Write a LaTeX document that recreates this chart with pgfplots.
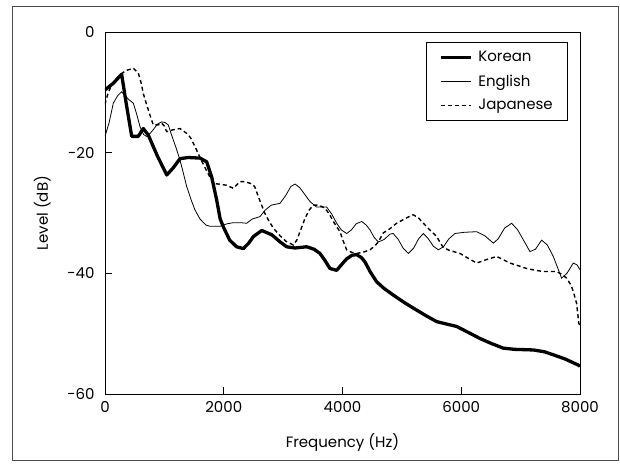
\documentclass[border=0pt]{standalone}
\usepackage{pgfplots}
\pgfplotsset{compat=1.18}
\usepackage{fontspec}
\setmainfont{Poppins}
\begin{document}
\begin{tikzpicture}[x=1pt,y=1pt]
\begin{axis}[
  scale only axis, width=475pt, height=362pt,
  xmin=0, xmax=8000, ymin=-60, ymax=0,
  xtick={0,2000,4000,6000,8000}, xticklabels={0,2000,4000,6000,8000},
  ytick={-60,-40,-20,0}, yticklabels={-60,-40,-20,0},
  tick pos=left, tick align=inside, major tick length=7pt,
  axis line style={line width=0.9pt},
  every tick/.style={black, line width=0.8pt},
  tick label style={font=\fontsize{15}{17}\selectfont},
  xticklabel style={yshift=-4pt},
  yticklabel style={xshift=-7pt},
  label style={font=\fontsize{15}{17}\selectfont},
  xlabel={Frequency (Hz)}, ylabel={Level (dB)},
  xlabel style={at={(axis description cs:0.5,-0.134)}, anchor=center},
  ylabel style={at={(axis description cs:-0.132,0.5)}, anchor=center, rotate=0},
  legend style={at={(0.975,0.972)}, anchor=north east, draw=black, line width=0.8pt,
    font=\fontsize{15}{17}\selectfont, inner xsep=13pt, inner ysep=7pt, row sep=7.5pt, column sep=4pt},
  legend cell align=left,
  legend image code/.code={\draw[#1] (0pt,0pt) -- (30pt,0pt);},
]
\addplot[black, line width=3.3pt, line join=round] coordinates {
(0,-9.6) (140,-8.5) (280,-7.0) (360,-12) (450,-17.3) (560,-17.3) (645,-16.0) (730,-17.1) (880,-20.5) (1040,-23.7) (1150,-22.5) (1263,-21.0) (1400,-20.8) (1600,-20.9) (1712,-21.5) (1796,-24.0) (1880,-27.8) (1940,-31.0) (1993,-32.3) (2100,-34.5) (2217,-35.6) (2330,-35.9) (2420,-35.0) (2500,-33.9) (2640,-32.9) (2807,-33.6) (2950,-34.8) (3060,-35.6) (3200,-35.8) (3396,-35.6) (3520,-36.0) (3620,-36.7) (3700,-37.8) (3789,-39.2) (3902,-39.5) (3980,-38.6) (4070,-37.6) (4160,-37.0) (4238,-36.9) (4320,-37.4) (4378,-38.1) (4470,-39.8) (4575,-41.4) (4700,-42.5) (4855,-43.6) (5050,-44.9) (5249,-46.1) (5420,-47.1) (5586,-48.0) (5750,-48.4) (5922,-48.8) (6100,-49.7) (6315,-50.8) (6500,-51.6) (6708,-52.4) (6900,-52.6) (7213,-52.7) (7400,-53.0) (7550,-53.5) (7750,-54.2) (7970,-55.2) (8000,-55.4)
};
\addlegendentry{Korean}
\addplot[black, line width=0.8pt] coordinates {
(0,-17.3) (70,-15) (140,-11.8) (210,-10.6) (280,-9.9) (330,-10.5) (400,-11.2) (477,-11.8) (530,-13.5) (590,-15.7) (650,-17.0) (700,-17.3) (760,-16.8) (813,-16.2) (880,-15.3) (953,-14.9) (1010,-15.0) (1066,-15.4) (1122,-17.1) (1190,-19.0) (1263,-21.2) (1376,-25.6) (1450,-27.8) (1516,-29.5) (1600,-31.0) (1700,-32.0) (1768,-32.2) (1937,-32.2) (2050,-31.8) (2161,-31.6) (2280,-31.6) (2386,-31.7) (2480,-31.0) (2610,-30.6) (2700,-29.5) (2800,-28.7) (2947,-28.4) (3050,-27.0) (3130,-25.6) (3200,-25.2) (3280,-25.8) (3370,-27.0) (3452,-28.1) (3560,-29.0) (3733,-29.0) (3820,-30.2) (3902,-31.7) (3980,-32.8) (4070,-33.4) (4150,-32.8) (4230,-31.8) (4322,-31.4) (4400,-32.0) (4463,-32.8) (4530,-34.0) (4603,-34.8) (4700,-34.4) (4800,-33.5) (4855,-33.4) (4940,-34.4) (5020,-35.8) (5108,-36.7) (5200,-35.8) (5280,-34.3) (5361,-33.4) (5440,-34.2) (5530,-35.5) (5613,-36.1) (5700,-35.6) (5790,-34.3) (5894,-33.4) (6050,-33.2) (6259,-33.1) (6400,-33.8) (6540,-35.0) (6620,-34.3) (6730,-32.5) (6849,-31.7) (6950,-32.8) (7060,-34.7) (7157,-36.4) (7250,-36.0) (7354,-34.5) (7450,-35.3) (7550,-37.2) (7620,-39.0) (7690,-40.8) (7780,-40.0) (7886,-38.3) (7950,-38.6) (8000,-39.4)
};
\addlegendentry{English}
\addplot[black, line width=1.4pt, dash pattern=on 4pt off 3pt] coordinates {
(0,-12.0) (40,-10.5) (100,-9.0) (170,-8.0) (250,-7.1) (350,-6.4) (477,-6.0) (561,-6.8) (610,-8.5) (645,-10.2) (700,-12.0) (758,-13.8) (813,-15.4) (898,-15.4) (954,-15.1) (1000,-15.6) (1038,-16.5) (1150,-16.2) (1263,-16.0) (1376,-16.8) (1440,-17.5) (1516,-19.0) (1600,-20.8) (1700,-22.8) (1824,-25.1) (1909,-25.2) (2049,-25.4) (2161,-25.9) (2273,-24.8) (2358,-24.8) (2450,-25.1) (2520,-25.6) (2610,-28.0) (2694,-30.1) (2760,-31.3) (2835,-32.5) (2950,-33.8) (3050,-34.7) (3172,-35.3) (3230,-34.5) (3284,-33.1) (3368,-30.9) (3440,-29.5) (3508,-28.7) (3600,-28.7) (3705,-29.2) (3780,-30.2) (3845,-31.4) (3957,-33.1) (4010,-34.6) (4070,-36.1) (4150,-36.5) (4238,-36.7) (4350,-36.5) (4463,-36.1) (4540,-35.5) (4603,-34.8) (4687,-33.3) (4800,-32.6) (4911,-31.7) (5024,-31.1) (5120,-30.6) (5192,-30.3) (5280,-30.8) (5361,-31.7) (5460,-32.7) (5586,-33.9) (5650,-35.0) (5698,-35.7) (5800,-36.2) (5978,-36.7) (6100,-37.4) (6259,-38.3) (6400,-37.8) (6596,-37.2) (6700,-37.7) (6820,-38.3) (6950,-38.7) (7100,-39.2) (7250,-39.5) (7382,-39.7) (7500,-39.7) (7606,-39.7) (7700,-40.2) (7775,-40.8) (7850,-42.0) (7887,-43.0) (7943,-45.0) (7980,-48.3) (8000,-48.6)
};
\addlegendentry{Japanese}
\end{axis}
\draw[line width=1pt, black!70] (-92,-66) rectangle (513,387);
\pgfresetboundingbox
\path (-105,-69) rectangle (515,394);
\end{tikzpicture}
\end{document}
